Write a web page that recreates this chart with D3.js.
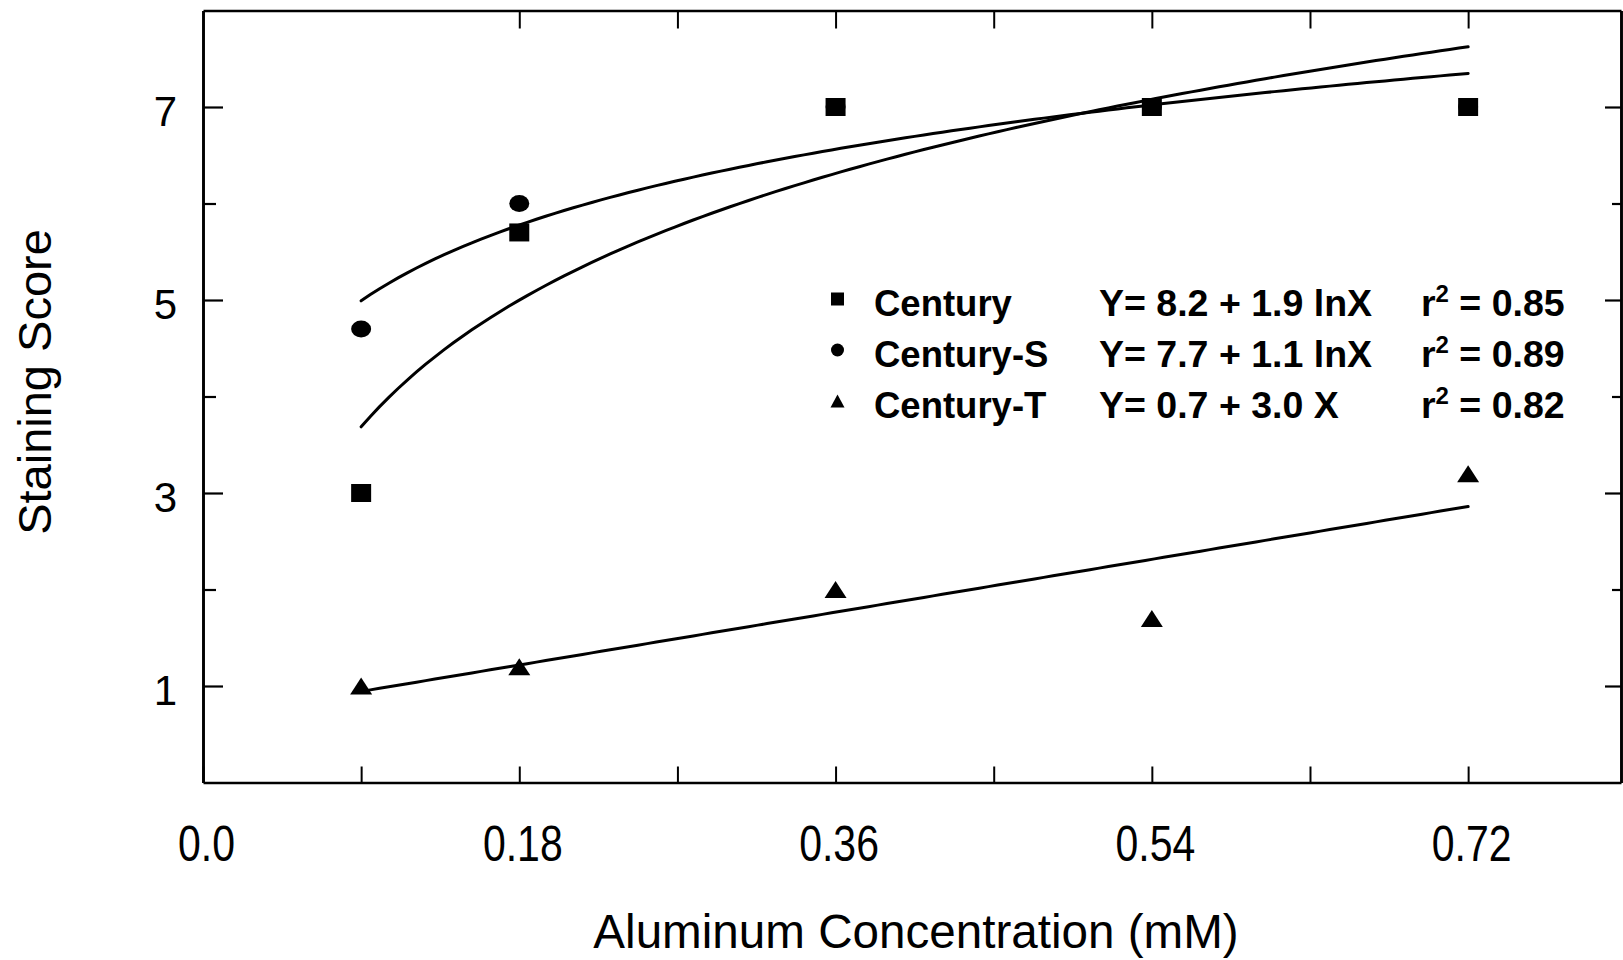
<!DOCTYPE html>
<html>
<head>
<meta charset="utf-8">
<script src="https://cdn.jsdelivr.net/npm/d3@7"></script>
<style>
  html, body { margin: 0; padding: 0; background: #fff; }
  svg { display: block; }
  text { font-family: "Liberation Sans", Arial, sans-serif; fill: #000; }
</style>
</head>
<body>
<svg id="chart" width="1623" height="960"></svg>
<script>
// Aluminum concentrations (mM) at which staining was scored
const concentrations = [0.09, 0.18, 0.36, 0.54, 0.72];

// Mean staining scores per cultivar
const centuryScores  = [3.0, 5.7, 7.0, 7.0, 7.0];
const centurySScores = [4.7, 6.0, 7.0, 7.0, 7.0];
const centuryTScores = [1.0, 1.2, 2.0, 1.7, 3.2];

// Legend rows and regression model per cultivar
const seriesNames = ["Century", "Century-S", "Century-T"];
const markerShapes = ["square", "circle", "triangle"];
const fitForms = ["log", "log", "linear"];
const equationLabels = ["Y= 8.2 + 1.9 lnX", "Y= 7.7 + 1.1 lnX", "Y= 0.7 + 3.0 X"];
const r2Labels = ["0.85", "0.89", "0.82"];

// Axis ticks
const xTickValues = [0, 0.09, 0.18, 0.27, 0.36, 0.45, 0.54, 0.63, 0.72];
const xTopTickValues = [0.18, 0.27, 0.36, 0.45, 0.54, 0.63, 0.72];
const xLabelValues = [0, 0.18, 0.36, 0.54, 0.72];
const xTickLabels = ["0.0", "0.18", "0.36", "0.54", "0.72"];
const yMajorTicks = [1, 3, 5, 7];
const yMinorTicks = [2, 4, 6];

const svg = d3.select("#chart");

const plotLeft = 203, plotRight = 1621, plotTop = 10.5, plotBottom = 782.5;
const x = d3.scaleLinear().domain([0, 0.807]).range([plotLeft, plotRight]);
const y = d3.scaleLinear().domain([0, 8]).range([plotBottom, plotTop]);

// ---- Frame and ticks (all ticks point inward) ----
function styleAxis(g, width) {
  g.selectAll(".domain").attr("stroke", "#000").attr("stroke-width", 2.6);
  g.selectAll(".tick line").attr("stroke", "#000").attr("stroke-width", width);
}

svg.append("g").attr("transform", `translate(0,${plotBottom})`)
  .call(d3.axisBottom(x).tickValues(xTickValues).tickSizeInner(-16).tickSizeOuter(0).tickFormat(""))
  .call(g => styleAxis(g, 2));

svg.append("g").attr("transform", `translate(0,${plotTop})`)
  .call(d3.axisTop(x).tickValues(xTopTickValues).tickSizeInner(-18).tickSizeOuter(0).tickFormat(""))
  .call(g => styleAxis(g, 2));

svg.append("g").attr("transform", `translate(${plotLeft},0)`)
  .call(d3.axisLeft(y).tickValues(yMajorTicks).tickSizeInner(-20).tickSizeOuter(0).tickFormat(""))
  .call(g => styleAxis(g, 2.2));
svg.append("g").attr("transform", `translate(${plotLeft},0)`)
  .call(d3.axisLeft(y).tickValues(yMinorTicks).tickSizeInner(-13).tickSizeOuter(0).tickFormat(""))
  .call(g => styleAxis(g, 2.2));

svg.append("g").attr("transform", `translate(${plotRight},0)`)
  .call(d3.axisRight(y).tickValues(yMajorTicks).tickSizeInner(-16).tickSizeOuter(0).tickFormat(""))
  .call(g => styleAxis(g, 2.2));
svg.append("g").attr("transform", `translate(${plotRight},0)`)
  .call(d3.axisRight(y).tickValues(yMinorTicks).tickSizeInner(-9).tickSizeOuter(0).tickFormat(""))
  .call(g => styleAxis(g, 2.2));

// ---- Tick labels ----
const xLabelAxis = svg.append("g").attr("transform", `translate(3,${plotBottom})`)
  .call(d3.axisBottom(x).tickValues(xLabelValues).tickSize(0).tickPadding(0)
    .tickFormat((d, i) => xTickLabels[i]));
xLabelAxis.select(".domain").remove();
xLabelAxis.selectAll(".tick text")
  .attr("x", 0).attr("y", 79).attr("dy", null)
  .attr("transform", "scale(0.82,1)")
  .style("font-size", "50px")
  .style("font-family", "'Liberation Sans', Arial, sans-serif")
  .attr("fill", "#000");

const yLabelAxis = svg.append("g").attr("transform", "translate(177,0)")
  .call(d3.axisLeft(y).tickValues(yMajorTicks).tickSize(0).tickPadding(0).tickFormat(d3.format("d")));
yLabelAxis.select(".domain").remove();
yLabelAxis.selectAll(".tick text")
  .attr("x", 0).attr("dy", null).attr("y", 18)
  .style("font-size", "42px")
  .style("font-family", "'Liberation Sans', Arial, sans-serif")
  .attr("fill", "#000");

// ---- Axis titles ----
svg.append("text")
  .attr("x", 916).attr("y", 948)
  .attr("text-anchor", "middle")
  .style("font-size", "47.6px")
  .text("Aluminum Concentration (mM)");

svg.append("text")
  .attr("transform", "translate(51,382) rotate(-90)")
  .attr("text-anchor", "middle")
  .style("font-size", "47px")
  .text("Staining Score");

// ---- Regression curves: least-squares fit of each series ----
const seriesScores = [centuryScores, centurySScores, centuryTScores];
function leastSquares(xs, ys) {
  const mx = d3.mean(xs), my = d3.mean(ys);
  const sxy = d3.sum(xs, (v, i) => (v - mx) * (ys[i] - my));
  const sxx = d3.sum(xs, v => (v - mx) * (v - mx));
  const slope = sxy / sxx;
  return { slope, intercept: my - slope * mx };
}
const fitLine = d3.line().x(d => x(d[0])).y(d => y(d[1]));
const xMin = d3.min(concentrations), xMax = d3.max(concentrations);
const samples = d3.range(0, 121).map(i => xMin + (xMax - xMin) * i / 120);
seriesNames.forEach((name, i) => {
  const tf = fitForms[i] === "log" ? Math.log : (v => v);
  const fit = leastSquares(concentrations.map(tf), seriesScores[i]);
  const pts = samples.map(v => [v, fit.intercept + fit.slope * tf(v)]);
  svg.append("path")
    .attr("d", fitLine(pts))
    .attr("fill", "none")
    .attr("stroke", "#000")
    .attr("stroke-width", 3)
    .attr("stroke-linecap", "round");
});

// ---- Markers ----
function drawMarker(g, shape, cx, cy, w, h) {
  if (shape === "square") {
    g.append("rect").attr("x", cx - w / 2).attr("y", cy - h / 2)
      .attr("width", w).attr("height", h).attr("fill", "#000");
  } else if (shape === "circle") {
    g.append("ellipse").attr("cx", cx).attr("cy", cy)
      .attr("rx", w / 2).attr("ry", h / 2).attr("fill", "#000");
  } else {
    g.append("path")
      .attr("d", `M${cx - w / 2},${cy + h / 2}L${cx + w / 2},${cy + h / 2}L${cx},${cy - h / 2}Z`)
      .attr("fill", "#000");
  }
}

const markerSizes = { square: [20, 18], circle: [20, 17], triangle: [22, 17] };
const markerLayer = svg.append("g");
// circles first so the squares sit on top where both share a value
[1, 0, 2].forEach(si => {
  const shape = markerShapes[si];
  concentrations.forEach((c, j) => {
    drawMarker(markerLayer, shape, x(c), y(seriesScores[si][j]), ...markerSizes[shape]);
  });
});

// ---- Legend ----
const legend = svg.append("g");
const rowBase = [316, 367, 418];
const legendMarker = { square: [13, 13], circle: [13, 13], triangle: [14, 13] };
seriesNames.forEach((name, i) => {
  const b = rowBase[i];
  drawMarker(legend, markerShapes[i], 837.5, b - 17, ...legendMarker[markerShapes[i]]);
  legend.append("text").attr("x", 874).attr("y", b)
    .style("font-size", "36.5px").style("font-weight", "bold").text(name);
  legend.append("text").attr("x", 1099).attr("y", b)
    .style("font-size", "37.5px").style("font-weight", "bold").text(equationLabels[i]);
  const r = legend.append("text").attr("x", 1421).attr("y", b)
    .style("font-size", "37.5px").style("font-weight", "bold");
  r.append("tspan").text("r");
  r.append("tspan").attr("dy", -14).style("font-size", "24px").text("2");
  r.append("tspan").attr("dy", 14).text(" = " + r2Labels[i]);
});
</script>
</body>
</html>
